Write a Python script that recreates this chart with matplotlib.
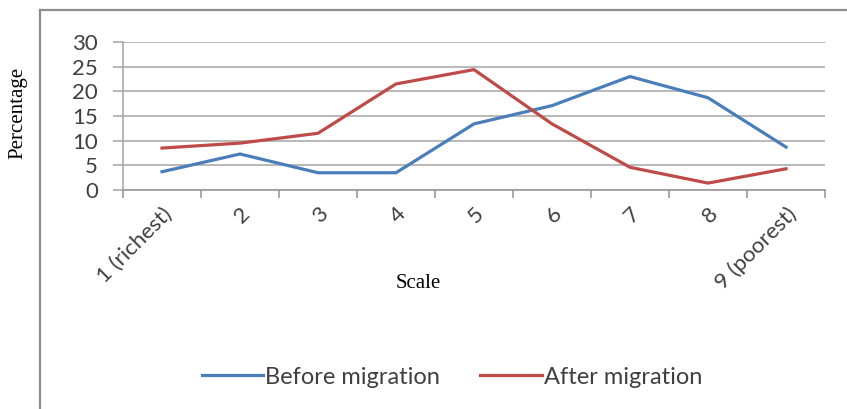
import matplotlib
matplotlib.use('Agg')
import matplotlib.pyplot as plt
from matplotlib.lines import Line2D

# scale categories and percentages per group
categories = ['1 (richest)', '2', '3', '4', '5', '6', '7', '8', '9 (poorest)']
before = [3.7, 7.3, 3.5, 3.5, 13.4, 17.1, 23.0, 18.7, 8.7]
after = [8.5, 9.5, 11.5, 21.5, 24.4, 13.4, 4.6, 1.4, 4.3]
y_ticks = [0, 5, 10, 15, 20, 25, 30]

BLUE = '#4a7ebb'
RED = '#be4b48'
TXT = '#404040'
GRID = '#b3b3b3'

W, H = 847, 409
fig = plt.figure(figsize=(W / 100, H / 100), dpi=100)
fig.patch.set_facecolor('white')

# plot area in pixel units
left, right, top, bottom = 123, 825, 42, 190
ax = fig.add_axes([left / W, 1 - bottom / H, (right - left) / W, (bottom - top) / H])

x = list(range(1, len(categories) + 1))
ax.plot(x, before, color=BLUE, lw=2.3, label='Before migration', solid_joinstyle='round')
ax.plot(x, after, color=RED, lw=2.3, label='After migration', solid_joinstyle='round')

ax.set_xlim(0.5, len(categories) + 0.5)
ax.set_ylim(0, 30)
ax.set_yticks(y_ticks)
ax.set_yticklabels([str(v) for v in y_ticks], fontsize=16, color=TXT, family='Lato')
ax.yaxis.grid(True, color=GRID, lw=1.3)
ax.set_axisbelow(True)

ax.set_xticks(x)
ax.set_xticklabels(categories, rotation=45, ha='right', va='top',
                   rotation_mode='anchor', fontsize=16, color=TXT, family='Lato')
ax.set_xticks([i + 0.5 for i in range(len(categories) + 1)], minor=True)
ax.tick_params(axis='x', which='major', length=0, pad=10)
ax.tick_params(axis='x', which='minor', length=6, color='#999999', width=1.2)
ax.tick_params(axis='y', length=7, color='#aaaaaa', width=1.2, pad=11)

for s in ('top', 'right'):
    ax.spines[s].set_visible(False)
ax.spines['left'].set_color('#aaaaaa')
ax.spines['bottom'].set_color('#999999')
ax.spines['left'].set_linewidth(1.2)
ax.spines['bottom'].set_linewidth(1.2)

fig.text(18 / W, 1 - 113 / H, 'Percentage', rotation=90, ha='center', va='center',
         fontsize=15, family='Liberation Serif', color='black')
fig.text(418 / W, 1 - 283 / H, 'Scale', ha='center', va='center',
         fontsize=15, family='Liberation Serif', color='black')

fig.legend(loc='center', bbox_to_anchor=(452 / W, 1 - 377 / H), ncol=2, frameon=False,
           prop={'family': 'Lato', 'size': 17}, labelcolor=TXT,
           handlelength=2.6, handletextpad=0.1, columnspacing=1.7)

# chart area border (top and left edges)
fig.add_artist(Line2D([40 / W, 1], [1 - 10 / H, 1 - 10 / H], color='#8c8c8c', lw=1.6))
fig.add_artist(Line2D([40 / W, 40 / W], [0, 1 - 10 / H], color='#8c8c8c', lw=1.6))

fig.savefig('out.png', dpi=100)
